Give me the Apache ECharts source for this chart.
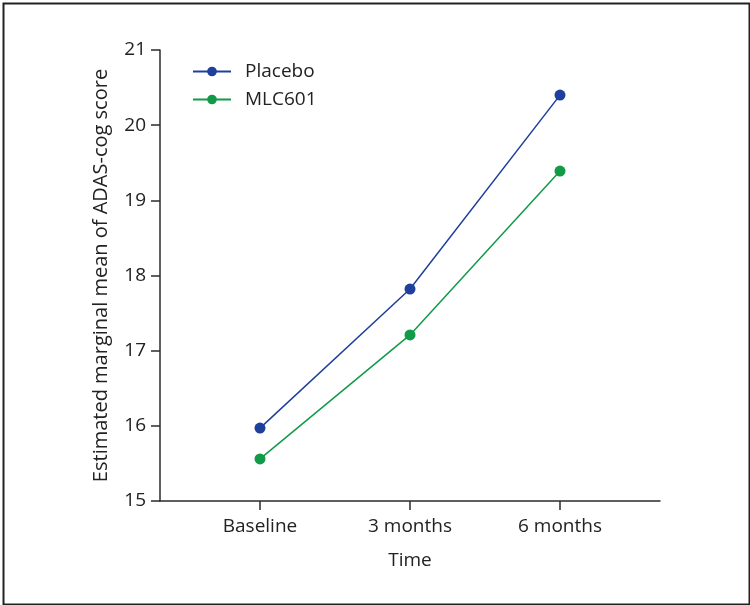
<!DOCTYPE html>
<html>
<head>
<meta charset="utf-8">
<script src="https://cdn.jsdelivr.net/npm/echarts@6/dist/echarts.min.js"></script>
<style>
html,body{margin:0;padding:0;background:#fff;}
#chart{width:750px;height:605px;}
</style>
</head>
<body>
<div id="chart"></div>
<script>
const categories = ['Baseline', '3 months', '6 months'];
const placebo = [15.97, 17.82, 20.40];
const mlc601 = [15.56, 17.21, 19.39];
const yTicks = [15, 16, 17, 18, 19, 20, 21];

const FONT = 'Open Sans';
const AX = '#2b2b2b';
const BLUE = '#1E3F9C';
const GREEN = '#119A48';

function toPairs(arr){ return arr.map((v,i)=>[i,v]); }

const chart = echarts.init(document.getElementById('chart'), null, {renderer:'canvas'});
chart.setOption({
  animation:false,
  backgroundColor:'#fff',
  textStyle:{fontFamily:FONT},
  graphic:[{
    type:'rect', left:1, top:1, z:100,
    shape:{x:0,y:0,width:746,height:601},
    style:{fill:'none', stroke:'#222', lineWidth:2}
  }],
  grid:{left:160, top:50, width:500, height:451, containLabel:false},
  legend:{
    orient:'vertical', left:192, top:62, padding:0,
    itemWidth:38, itemHeight:12, itemGap:9,
    textStyle:{fontFamily:FONT, fontSize:19, color:'#222', padding:[0,0,0,9]},
    data:['Placebo','MLC601']
  },
  xAxis:{
    type:'value', min:-2/3, max:8/3,
    name:'Time', nameLocation:'middle', nameGap:50,
    nameTextStyle:{fontFamily:FONT, fontSize:19, color:'#222'},
    axisLine:{show:true, onZero:false, lineStyle:{color:AX, width:1.5}},
    axisTick:{show:true, length:9, inside:false, customValues:[0,1,2], lineStyle:{color:AX, width:1.5}},
    axisLabel:{customValues:[0,1,2], margin:16, fontFamily:FONT, fontSize:19, color:'#222',
      formatter:function(v){ return categories[Math.round(v)] || ''; }},
    splitLine:{show:false}
  },
  yAxis:{
    type:'value', min:15, max:21, interval:1,
    name:'Estimated marginal mean of ADAS-cog score', nameLocation:'middle', nameGap:49,
    nameTextStyle:{fontFamily:FONT, fontSize:20, color:'#222'},
    axisLine:{show:true, onZero:false, lineStyle:{color:AX, width:1.5}},
    axisTick:{show:true, length:9, lineStyle:{color:AX, width:1.5}},
    axisLabel:{margin:14, fontFamily:FONT, fontSize:19, color:'#222',
      formatter:function(v){ return yTicks.indexOf(v)>=0 ? String(v) : ''; }},
    splitLine:{show:false}
  },
  series:[
    {name:'Placebo', type:'line', data:toPairs(placebo), symbol:'circle', symbolSize:11,
     lineStyle:{color:BLUE, width:1.5}, itemStyle:{color:BLUE}},
    {name:'MLC601', type:'line', data:toPairs(mlc601), symbol:'circle', symbolSize:11,
     lineStyle:{color:GREEN, width:1.5}, itemStyle:{color:GREEN}}
  ]
});
</script>
</body>
</html>
